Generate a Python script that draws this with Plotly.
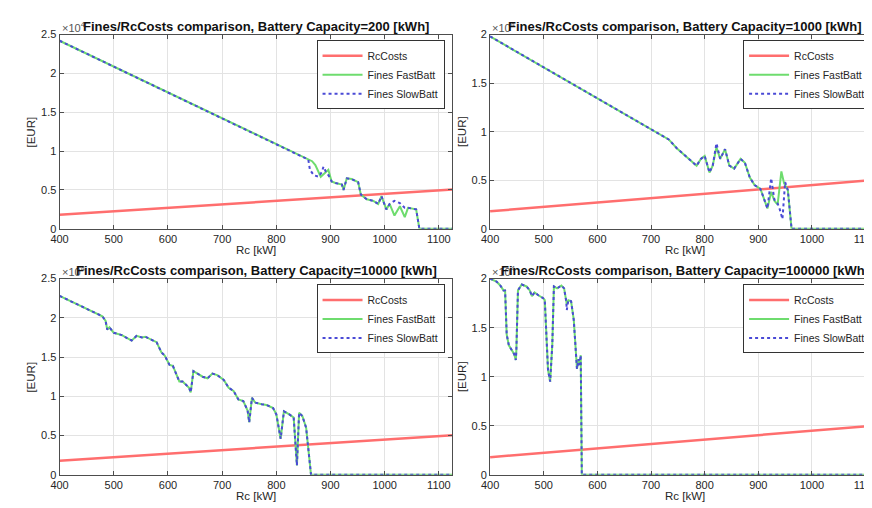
import plotly.graph_objects as go

W, H = 872, 508

# ---------------- data (values in EUR) ----------------
rc_line = [400, 1125]
rc_costs = [1800, 5060]

# Battery Capacity = 200 kWh
rc_200_fast = [400, 859, 866, 872, 882, 896, 902, 909, 921, 924, 930, 939, 951, 956, 967, 979, 988,
               994, 1003, 1009, 1018, 1028, 1037, 1043, 1058, 1064, 1125]
fines_200_fast = [24200, 8900, 8700, 8200, 6700, 7600, 6100, 5900, 5700, 5000, 6500, 6400, 6000, 4400,
                  3800, 3600, 3200, 4200, 2500, 3200, 1700, 2900, 1500, 2700, 2500, 0, 0]
rc_200_slow = [400, 859, 862, 869, 878, 884, 887, 891, 897, 902, 909, 921, 924, 930, 939, 951, 956, 967,
               979, 988, 994, 1003, 1009, 1018, 1028, 1037, 1043, 1058, 1064, 1125]
fines_200_slow = [24200, 8900, 7600, 6900, 6700, 7300, 8000, 7400, 6800, 6100, 5900, 5700, 5000, 6500,
                  6400, 6000, 4400, 3800, 3600, 3200, 4200, 2500, 3200, 3600, 3300, 2700, 2700, 2500, 0, 0]

# Battery Capacity = 1000 kWh
rc_1000_fast = [400, 707, 719, 733, 748, 765, 785, 793, 800, 809, 815, 822, 829, 838, 846, 855, 867, 875,
                884, 893, 904, 917, 924, 930, 936, 943, 948, 955, 962, 1125]
fines_1000_fast = [19800, 10100, 9700, 9200, 8300, 7500, 6500, 7200, 7500, 5800, 6500, 8400, 7200, 8200,
                   6500, 6200, 7200, 6800, 5300, 4500, 4100, 2100, 3800, 2900, 2500, 5900, 4700, 4000, 0, 0]
rc_1000_slow = [400, 707, 719, 733, 748, 765, 785, 793, 800, 809, 815, 822, 829, 838, 846, 855, 867, 875,
                884, 893, 904, 917, 924, 930, 936, 940, 945, 950, 955, 962, 1125]
fines_1000_slow = [19800, 10100, 9700, 9200, 8300, 7500, 6500, 7200, 7500, 5800, 6500, 8800, 7200, 8200,
                   6500, 6200, 7200, 6800, 5300, 4500, 4100, 2100, 5200, 3000, 2600, 2000, 1000, 4800, 4000,
                   0, 0]

# Battery Capacity = 10000 kWh
rc_10000 = [400, 479, 485, 488, 492, 500, 515, 533, 542, 552, 558, 579, 588, 594, 603, 609, 621, 627, 639,
            642, 647, 655, 664, 673, 682, 691, 703, 712, 721, 730, 739, 747, 750, 755, 761, 773, 782, 794,
            800, 808, 814, 824, 832, 838, 842, 848, 855, 864, 1125]
fines_10000_fast = [22800, 20200, 19600, 18500, 18800, 18100, 17800, 17100, 17700, 17500, 17600, 16900,
                    15600, 15200, 14000, 13900, 11900, 11900, 11100, 10500, 13200, 12900, 12500, 12300,
                    12900, 12700, 12100, 11100, 10700, 9600, 9400, 8200, 6700, 9800, 9200, 9000, 8900,
                    8500, 7700, 4600, 8100, 7700, 7300, 1200, 7900, 7500, 6000, 0, 0]
fines_10000_slow = list(fines_10000_fast)

# Battery Capacity = 100000 kWh
rc_100000 = [400, 412, 419, 425, 428, 431, 435, 440, 445, 448, 449, 452, 459, 468, 474, 478, 483, 490, 499,
             502, 505, 508, 512, 516, 519, 525, 533, 538, 542, 543, 546, 551, 556, 560, 562, 565, 567, 569,
             571, 1125]
fines_100000_fast = [20000, 19700, 19300, 18800, 18800, 14300, 13200, 12700, 12300, 11700, 12700, 18800,
                     19400, 19200, 18800, 18200, 18600, 18300, 18000, 17800, 14200, 10700, 9500, 13300,
                     19200, 19000, 19300, 19000, 17700, 17400, 17800, 17700, 15800, 12700, 10800, 11800,
                     11200, 12200, 0, 0]
fines_100000_slow = [20000, 19700, 19300, 18800, 18800, 14300, 13200, 12700, 12300, 11700, 12700, 18800,
                     19400, 19200, 18800, 18200, 18600, 18300, 18000, 17800, 14200, 10700, 9500, 13300,
                     19200, 19000, 19300, 19000, 17700, 16800, 17800, 17700, 15800, 12700, 10800, 11800,
                     11200, 12200, 0, 0]

capacities = ["200", "1000", "10000", "100000"]
x_ticks = [400, 500, 600, 700, 800, 900, 1000, 1100]
y_ticks_25 = [0, 5000, 10000, 15000, 20000, 25000]
y_text_25 = ["0", "0.5", "1", "1.5", "2", "2.5"]
y_ticks_20 = [0, 5000, 10000, 15000, 20000]
y_text_20 = ["0", "0.5", "1", "1.5", "2"]

panels = [
    dict(fx=rc_200_fast, fy=fines_200_fast, sx=rc_200_slow, sy=fines_200_slow, ymax=25000),
    dict(fx=rc_1000_fast, fy=fines_1000_fast, sx=rc_1000_slow, sy=fines_1000_slow, ymax=20000),
    dict(fx=rc_10000, fy=fines_10000_fast, sx=rc_10000, sy=fines_10000_slow, ymax=25000),
    dict(fx=rc_100000, fy=fines_100000_fast, sx=rc_100000, sy=fines_100000_slow, ymax=20000),
]

# ---------------- layout geometry (pixels) ----------------
x_dom_px = [(43, 440), (478, 871), (43, 440), (478, 871)]
y_dom_px = [(21, 220), (21, 220), (271, 472), (271, 472)]

RED = "#FF6E6E"
GREEN = "#6EDC6E"
BLUE = "#4A4AD6"
FONT = "Liberation Sans, Arial, Helvetica, sans-serif"
AX = "#4d4d4d"

fig = go.Figure()
layout = dict(width=W, height=H, margin=dict(l=0, r=0, t=0, b=0),
              paper_bgcolor="white", plot_bgcolor="white", font=dict(family=FONT, color="#262626"),
              annotations=[])

for i, p in enumerate(panels):
    n = "" if i == 0 else str(i + 1)
    xa, ya = "x" + n, "y" + n
    lg = "legend" + n
    fig.add_trace(go.Scatter(x=rc_line, y=rc_costs, mode="lines", name="RcCosts",
                             line=dict(color=RED, width=2.5), xaxis=xa, yaxis=ya, legend=lg))
    fig.add_trace(go.Scatter(x=p["fx"], y=p["fy"], mode="lines", name="Fines FastBatt",
                             line=dict(color=GREEN, width=2), xaxis=xa, yaxis=ya, legend=lg))
    fig.add_trace(go.Scatter(x=p["sx"], y=p["sy"], mode="lines", name="Fines SlowBatt",
                             line=dict(color=BLUE, width=2, dash="dot"), xaxis=xa, yaxis=ya, legend=lg))

    x0, x1 = x_dom_px[i]
    y0, y1 = y_dom_px[i]
    xd = [x0 / W, x1 / W]
    yd = [1 - y1 / H, 1 - y0 / H]
    common = dict(showline=True, linecolor=AX, linewidth=1, mirror="ticks", ticks="inside", ticklen=4,
                  tickcolor=AX, showgrid=True, gridcolor="#e3e3e3", gridwidth=1, zeroline=False,
                  tickfont=dict(size=11, color="#262626", family=FONT))
    layout["xaxis" + n] = dict(domain=xd, range=[400, 1125], tickvals=x_ticks, anchor=ya, **common)
    if p["ymax"] == 25000:
        tv, tt = y_ticks_25, y_text_25
    else:
        tv, tt = y_ticks_20, y_text_20
    layout["yaxis" + n] = dict(domain=yd, range=[0, p["ymax"]], tickvals=tv, ticktext=tt, anchor=xa,
                               **common)
    layout[lg] = dict(x=(x1 - 8) / W, y=1 - (y0 + 6) / H, xanchor="right", yanchor="top",
                      bgcolor="white", bordercolor="#333333", borderwidth=1,
                      font=dict(size=10.5, family=FONT, color="#262626"), tracegroupgap=0,
                      itemwidth=40)

    cx = (x0 + x1) / 2
    # exponent label
    layout["annotations"].append(dict(text="×10<sup>4</sup>", x=x0 / W, y=1 - (y0 - 8) / H,
                                      xref="paper", yref="paper", xanchor="left", yanchor="middle",
                                      showarrow=False, font=dict(size=11, color="#555555", family=FONT)))
    # title
    layout["annotations"].append(dict(text="<b>Fines/RcCosts comparison, Battery Capacity=%s [kWh]</b>"
                                           % capacities[i],
                                      x=cx / W, y=1 - (y0 - 8) / H, xref="paper", yref="paper",
                                      xanchor="center", yanchor="middle", showarrow=False,
                                      font=dict(size=13, color="#111111", family=FONT)))
    # x label
    layout["annotations"].append(dict(text="Rc [kW]", x=cx / W, y=1 - (y1 + 22) / H, xref="paper",
                                      yref="paper", xanchor="center", yanchor="middle", showarrow=False,
                                      font=dict(size=11.5, color="#262626", family=FONT)))
    # y label
    layout["annotations"].append(dict(text="[EUR]", x=(x0 - 29) / W, y=1 - ((y0 + y1) / 2) / H,
                                      xref="paper", yref="paper", xanchor="center", yanchor="middle",
                                      textangle=-90, showarrow=False,
                                      font=dict(size=11.5, color="#262626", family=FONT)))

fig.update_layout(**layout)
fig.write_html("out.html")
